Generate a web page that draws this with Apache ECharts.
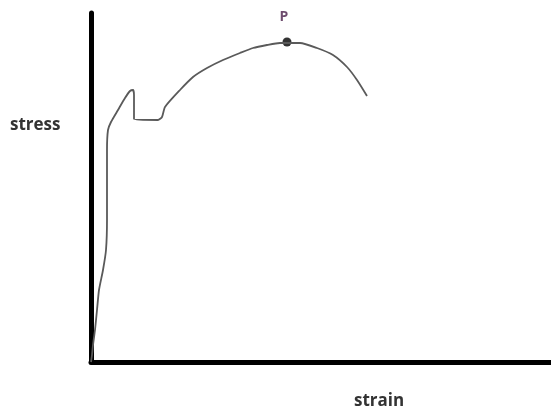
<!DOCTYPE html>
<html>
<head>
<meta charset="utf-8">
<script src="https://cdn.jsdelivr.net/npm/echarts@6/dist/echarts.min.js"></script>
<style>html,body{margin:0;padding:0;background:#fff}#c{width:551px;height:420px}</style>
</head>
<body>
<div id="c"></div>
<script>
// strain (x) and stress (y) readings in arbitrary units
const strain = [0,1,2,4,6,8,12,15,16,16,16,17,20,27,34,39,42,43,43,67,71,74,89,102,116,132,149,162,176,189,196,209,226,242,256,266,276];
const stress = [0,7,17,32,52,72,92,112,142,182,212,232,240,252,264,271,272,267,243,242,245,255,272,285,294,302,309,314,317,319,319,319,314,307,295,282,266];
const pointP = [196, 320];
const pointLabel = 'P';
const xName = 'strain';
const yName = 'stress';

const chart = echarts.init(document.getElementById('c'));
chart.setOption({
  animation: false,
  backgroundColor: '#ffffff',
  grid: { left: 91, right: 0, top: 13, bottom: 58 },
  xAxis: {
    type: 'value', min: 0, max: 460,
    axisLine: { show: true, lineStyle: { color: '#000', width: 5 } },
    axisTick: { show: false }, axisLabel: { show: false }, splitLine: { show: false }
  },
  yAxis: {
    type: 'value', min: 0, max: 349,
    axisLine: { show: true, lineStyle: { color: '#000', width: 5 } },
    axisTick: { show: false }, axisLabel: { show: false }, splitLine: { show: false }
  },
  series: [
    {
      type: 'line',
      data: strain.map((x, i) => [x, stress[i]]),
      showSymbol: false,
      smooth: 0.2,
      lineStyle: { color: '#5a5a5a', width: 1.8 }
    },
    {
      type: 'scatter',
      data: [pointP],
      symbolSize: 9,
      itemStyle: { color: '#000' },
      label: {
        show: true, position: 'top', distance: 13, offset: [-3, 0],
        formatter: pointLabel,
        color: '#4a1f4a', fontFamily: 'Open Sans', fontWeight: 'bold', fontSize: 14
      }
    }
  ],
  graphic: [
    { type: 'text', left: 10, top: 117,
      style: { text: yName, fill: '#333', font: 'bold 17px "Open Sans"' } },
    { type: 'text', left: 354, top: 393,
      style: { text: xName, fill: '#333', font: 'bold 17px "Open Sans"' } }
  ]
});
</script>
</body>
</html>
